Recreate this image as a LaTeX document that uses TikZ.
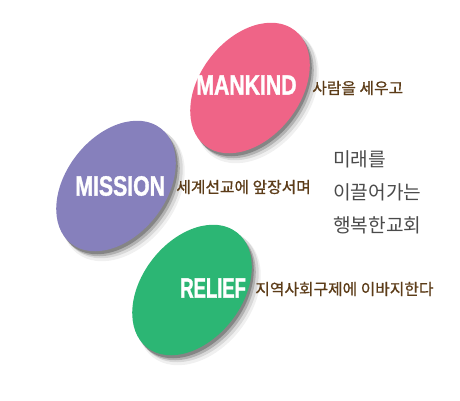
\documentclass[tikz,border=0pt]{standalone}
\usepackage{fontspec}
\newfontfamily\krfont{Noto Sans CJK KR}
\newfontfamily\krmotto{Noto Sans CJK KR}[FakeBold=0.8]
\newfontfamily\capfont{Liberation Sans}[FakeStretch=0.76, BoldFeatures={FakeBold=1.2}]
\newfontfamily\capnarrow{Liberation Sans}[FakeStretch=0.66, BoldFeatures={FakeBold=1.2}]
\usetikzlibrary{positioning}
\definecolor{mkpink}{RGB}{239,100,135}
\definecolor{mspurple}{RGB}{134,128,188}
\definecolor{rlgreen}{RGB}{44,182,116}
\definecolor{mottobrown}{RGB}{92,60,24}
\definecolor{slogangray}{RGB}{74,74,74}

% one tilted disc with its soft shadow
\newcommand\blob[2]{%
    \begin{scope}[shift={#1}]
        \fill[black, opacity=.06, shift={(7,8)}, rotate=52] (0,0) ellipse [x radius=75, y radius=52];
        \fill[black, opacity=.10, shift={(6,6)}, rotate=52] (0,0) ellipse [x radius=74, y radius=51];
        \fill[black, opacity=.18, shift={(4,5)}, rotate=52] (0,0) ellipse [x radius=73, y radius=50];
        \fill[black, opacity=.25, shift={(2,3)}, rotate=52] (0,0) ellipse [x radius=73, y radius=50];
        \fill[#2, rotate=52] (0,0) ellipse [x radius=73, y radius=50];
    \end{scope}}

\begin{document}
\begin{tikzpicture}[
        x=0.02cm, y=-0.02cm,
        tag/.style={
            font=\capfont\bfseries\fontsize{15.9}{16}\selectfont,
            text=white,
            inner sep=0pt,
            anchor=west
        },
        motto/.style={
            font=\krmotto\fontsize{9}{10}\selectfont,
            text=mottobrown,
            inner sep=0pt,
            anchor=west
        },
        slogan/.style={
            font=\krfont\fontsize{10.9}{12}\selectfont,
            text=slogangray,
            inner sep=0pt,
            anchor=base west
        }
    ]
    \useasboundingbox (0,0) rectangle (460,400);

    \blob{(250,88)}{mkpink}
    \blob{(116,186)}{mspurple}
    \blob{(192,290)}{rlgreen}

    \node[tag] (mankind) at (196,85) {MANKIND};
    \node[motto] (mankindtxt) at (312,88) {사람을 세우고};

    \node[tag] (mission) at (75,186) {MISSION};
    \node[motto] (missiontxt) at (176,187) {세계선교에 앞장서며};

    \node[tag, font=\capnarrow\bfseries\fontsize{15.9}{16}\selectfont] (relief) at (180,288) {RELIEF};
    \node[motto] (relieftxt) at (255,289) {지역사회구제에 이바지한다};

    \node[slogan] (future) at (333,166) {미래를};
    \node[slogan] (leading) at (333,199) {이끌어가는};
    \node[slogan] (church) at (333,232) {행복한교회};

\end{tikzpicture}
\end{document}
